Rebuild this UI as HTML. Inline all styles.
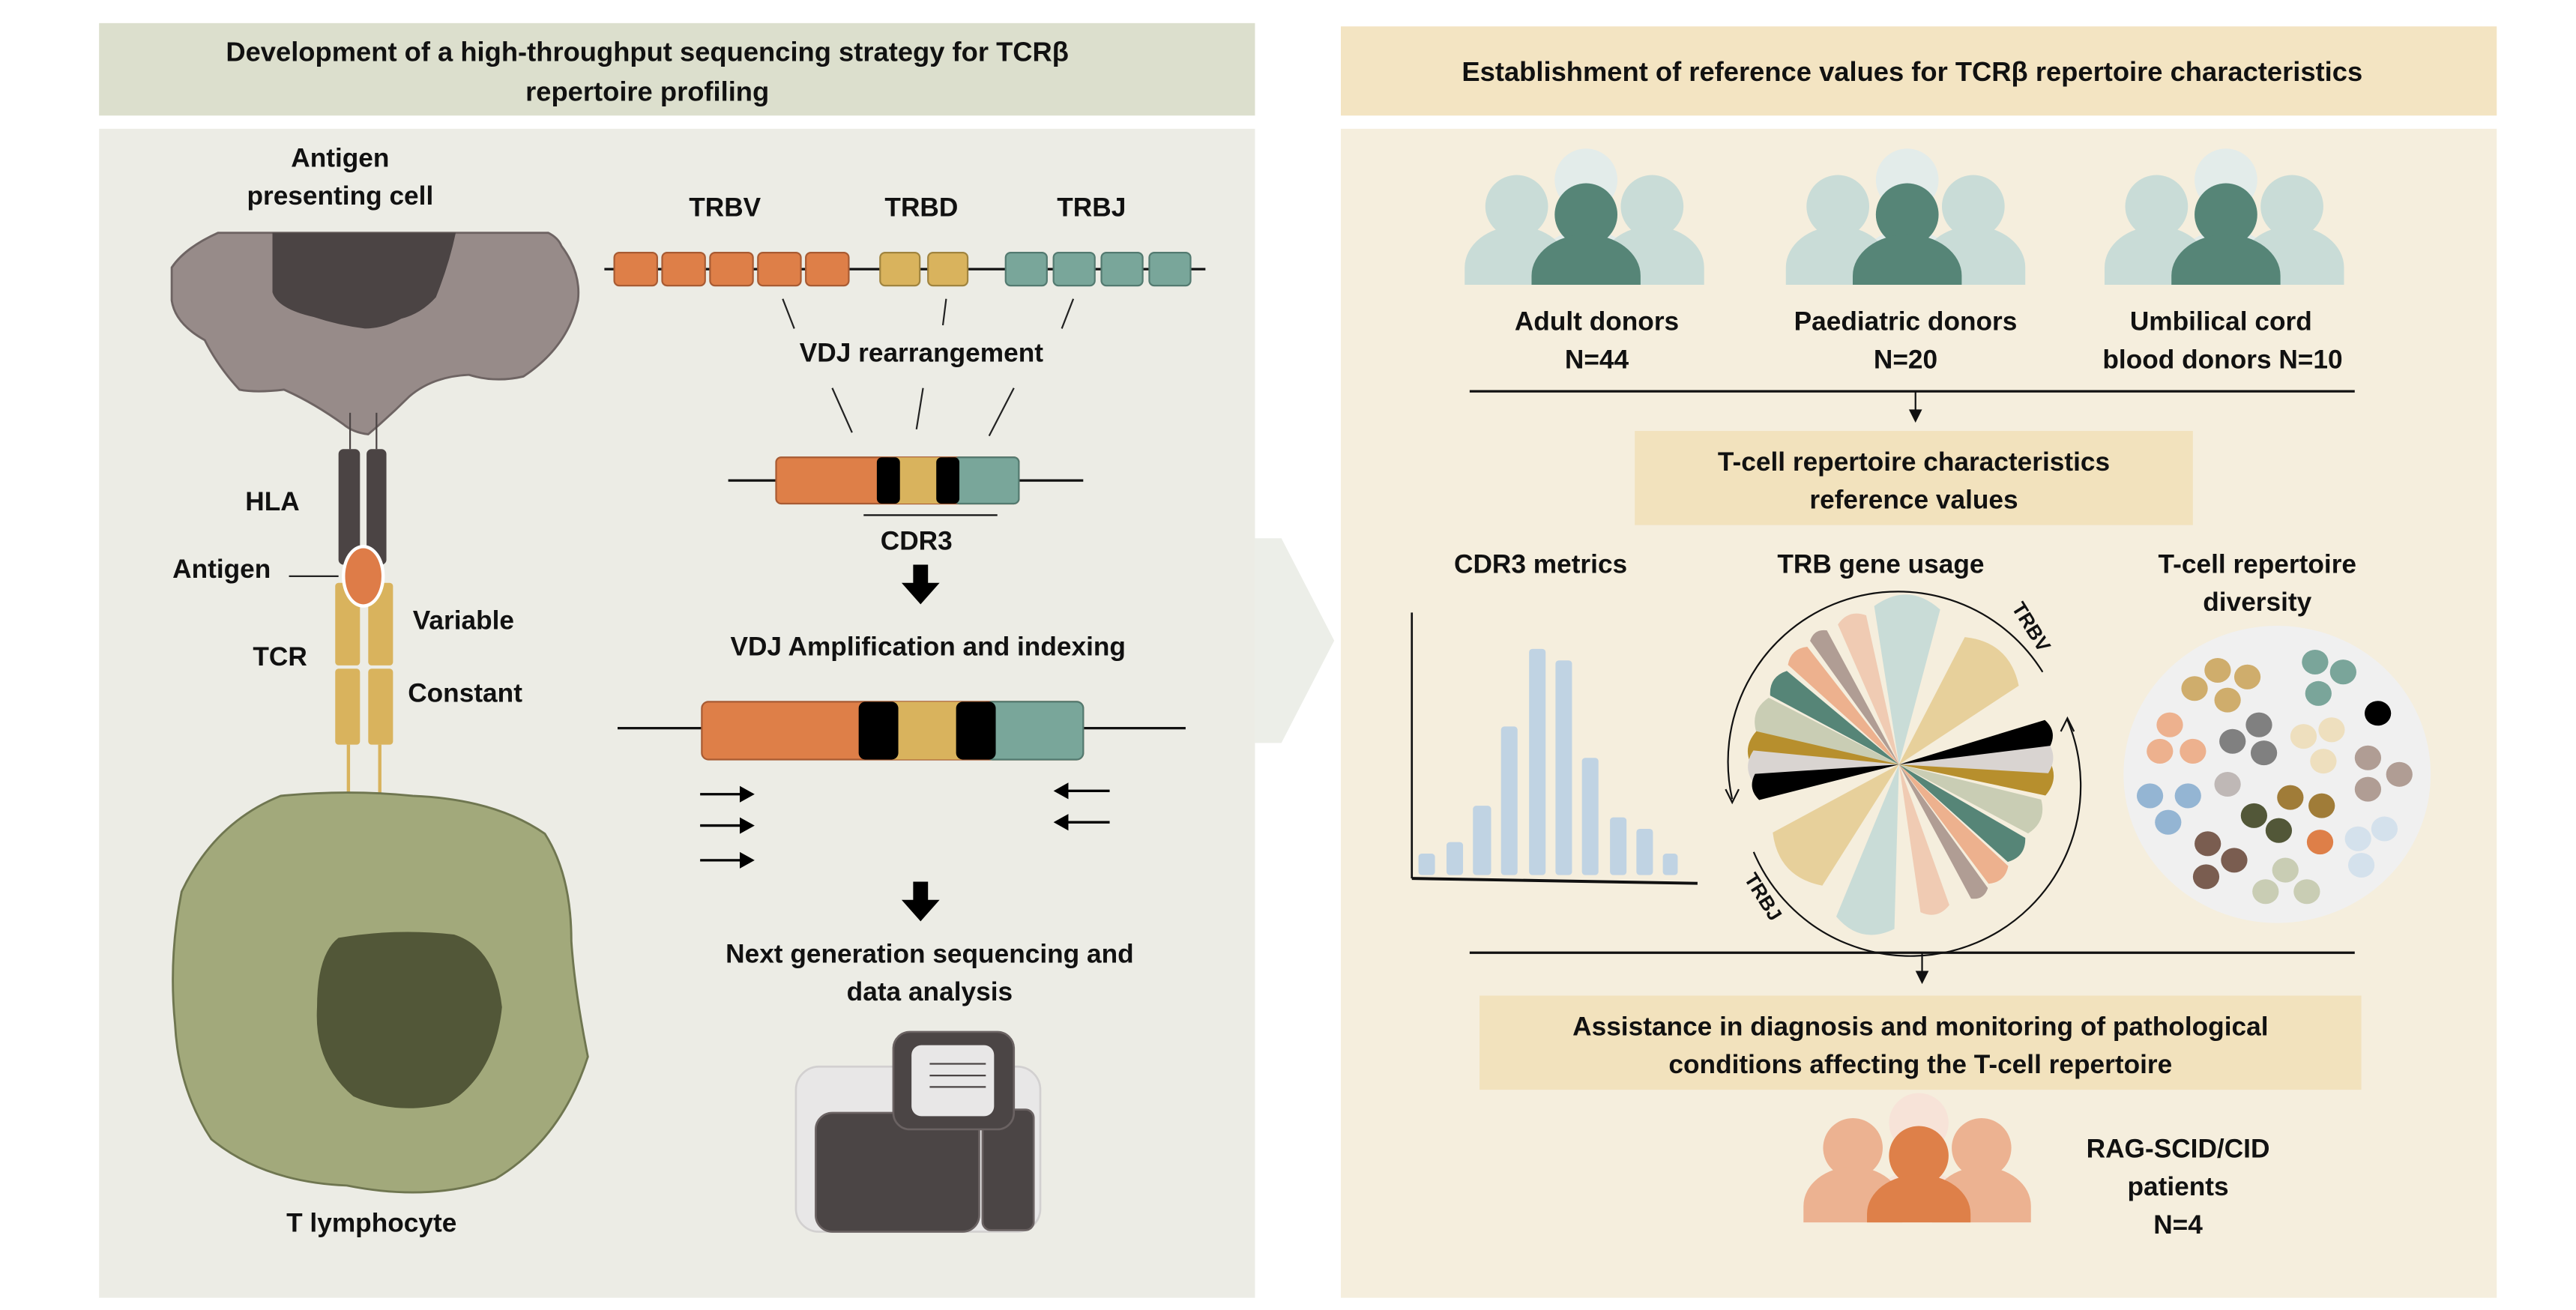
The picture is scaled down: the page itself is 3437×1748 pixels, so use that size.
<!DOCTYPE html>
<html><head><meta charset="utf-8"><style>
html,body{margin:0;padding:0;background:#fff}
svg{display:block}
text{font-family:"Liberation Sans",Arial,sans-serif;font-weight:bold;fill:#111}
</style></head><body>
<svg width="3437" height="1748" viewBox="0 0 1560 793.4" preserveAspectRatio="none" xmlns="http://www.w3.org/2000/svg">
<rect width="1560" height="794" fill="#fff"/>
<!-- Left -->
<rect x="60" y="14" width="700" height="56" fill="#dcdfcd"/>
<text x="392" y="37" font-size="16.5" text-anchor="middle">Development of a high-throughput sequencing strategy for TCRβ</text>
<text x="392" y="61" font-size="16.5" text-anchor="middle">repertoire profiling</text>
<rect x="60" y="78" width="700" height="708" fill="#ecece5"/>
<polygon points="760,326 776,326 808,388 776,450 760,450" fill="#eceee8"/>
<!-- Right -->
<rect x="812" y="16" width="700" height="54" fill="#f3e4c2"/>
<text x="1158" y="49" font-size="16.5" text-anchor="middle">Establishment of reference values for TCRβ repertoire characteristics</text>
<rect x="812" y="78" width="700" height="708" fill="#f5eedd"/>

<!-- APC -->
<text x="206" y="101" font-size="16" text-anchor="middle">Antigen</text>
<text x="206" y="124" font-size="16" text-anchor="middle">presenting cell</text>
<path d="M132,141 L332,141 Q338,144 340,149 Q352,165 350,182 Q344,210 317,228 Q300,232 284,227 Q262,228 248,240 Q236,252 223,263 Q214,262 208,257 Q190,244 172,236 Q155,238 145,236 Q132,222 124,206 Q106,196 104,182 L104,162 Q112,150 132,141Z" fill="#978b89" stroke="#6e6463" stroke-width="1.3"/>
<path d="M165,141 L276,141 Q272,160 264,180 Q255,190 243,193 Q232,199 221,199 Q205,197 190,192 Q168,187 165,177Z" fill="#4b4444"/>
<!-- HLA -->
<line x1="212" y1="250" x2="212" y2="272" stroke="#4b4444" stroke-width="1"/>
<line x1="228" y1="250" x2="228" y2="272" stroke="#4b4444" stroke-width="1"/>
<rect x="205" y="272" width="13" height="70" rx="3" fill="#4b4444"/>
<rect x="222" y="272" width="12" height="70" rx="3" fill="#4b4444"/>
<text x="165" y="309" font-size="16" text-anchor="middle">HLA</text>
<text x="164" y="350" font-size="16" text-anchor="end">Antigen</text>
<line x1="175" y1="349" x2="205" y2="349" stroke="#222" stroke-width="1"/>
<!-- TCR -->
<rect x="203" y="353" width="15" height="50" rx="2" fill="#d9b35d"/>
<rect x="223" y="353" width="15" height="50" rx="2" fill="#d9b35d"/>
<rect x="203" y="405" width="15" height="46" rx="2" fill="#d9b35d"/>
<rect x="223" y="405" width="15" height="46" rx="2" fill="#d9b35d"/>
<line x1="211" y1="451" x2="211" y2="486" stroke="#d9b35d" stroke-width="2"/>
<line x1="230" y1="451" x2="230" y2="486" stroke="#d9b35d" stroke-width="2"/>
<ellipse cx="220" cy="349" rx="13" ry="19" fill="#fff"/>
<ellipse cx="220" cy="349" rx="11" ry="17" fill="#de7c48"/>
<text x="250" y="381" font-size="16">Variable</text>
<text x="247" y="425" font-size="16">Constant</text>
<text x="186" y="403" font-size="16" text-anchor="end">TCR</text>
<text x="223" y="505" font-size="17" text-anchor="middle">α β</text>
<!-- T cell -->
<path d="M170,482 Q210,478 250,482 Q300,484 330,505 Q346,530 346,570 Q348,600 356,640 Q340,690 300,714 Q260,728 210,718 Q160,716 128,690 Q108,660 106,620 Q102,580 110,540 Q130,498 170,482Z" fill="#a2a97b" stroke="#6f7650" stroke-width="1.3"/>
<path d="M205,568 Q240,562 275,566 Q300,574 304,610 Q300,650 272,668 Q240,676 214,664 Q190,644 192,610 Q192,578 205,568Z" fill="#525738"/>
<text x="225" y="746" font-size="16" text-anchor="middle">T lymphocyte</text>

<!-- Genes -->
<text x="439" y="131" font-size="16" text-anchor="middle">TRBV</text>
<text x="558" y="131" font-size="16" text-anchor="middle">TRBD</text>
<text x="661" y="131" font-size="16" text-anchor="middle">TRBJ</text>
<line x1="366" y1="163" x2="730" y2="163" stroke="#111" stroke-width="1.5"/>
<g stroke-width="1">
<rect x="372" y="153" width="26" height="20" rx="3" fill="#de7f48" stroke="#a85b33"/>
<rect x="401" y="153" width="26" height="20" rx="3" fill="#de7f48" stroke="#a85b33"/>
<rect x="430" y="153" width="26" height="20" rx="3" fill="#de7f48" stroke="#a85b33"/>
<rect x="459" y="153" width="26" height="20" rx="3" fill="#de7f48" stroke="#a85b33"/>
<rect x="488" y="153" width="26" height="20" rx="3" fill="#de7f48" stroke="#a85b33"/>
<rect x="533" y="153" width="24" height="20" rx="3" fill="#d9b35d" stroke="#a0843f"/>
<rect x="562" y="153" width="24" height="20" rx="3" fill="#d9b35d" stroke="#a0843f"/>
<rect x="609" y="153" width="25" height="20" rx="3" fill="#79a69a" stroke="#537a70"/>
<rect x="638" y="153" width="25" height="20" rx="3" fill="#79a69a" stroke="#537a70"/>
<rect x="667" y="153" width="25" height="20" rx="3" fill="#79a69a" stroke="#537a70"/>
<rect x="696" y="153" width="25" height="20" rx="3" fill="#79a69a" stroke="#537a70"/>
</g>
<g stroke="#222" stroke-width="1">
<line x1="474" y1="181" x2="481" y2="199"/><line x1="573" y1="181" x2="571" y2="197"/><line x1="650" y1="181" x2="643" y2="199"/>
<line x1="504" y1="235" x2="516" y2="262"/><line x1="559" y1="235" x2="555" y2="260"/><line x1="614" y1="235" x2="599" y2="264"/>
</g>
<text x="558" y="219" font-size="16" text-anchor="middle">VDJ rearrangement</text>
<line x1="441" y1="291" x2="656" y2="291" stroke="#111" stroke-width="1.5"/>
<rect x="470" y="277" width="147" height="28" rx="3" fill="#de7f48" stroke="#a85b33"/>
<rect x="538" y="277" width="36" height="28" fill="#d9b35d"/>
<rect x="578" y="277" width="39" height="28" rx="3" fill="#79a69a" stroke="#537a70"/>
<rect x="531" y="277" width="14" height="28" rx="3" fill="#000"/>
<rect x="567" y="277" width="14" height="28" rx="3" fill="#000"/>
<line x1="523" y1="312" x2="604" y2="312" stroke="#111" stroke-width="1"/>
<text x="555" y="333" font-size="16" text-anchor="middle">CDR3</text>
<rect x="553" y="342" width="9" height="12" fill="#000"/><polygon points="546,353 569,353 557.5,366" fill="#000"/>
<text x="562" y="397" font-size="16" text-anchor="middle">VDJ Amplification and indexing</text>
<line x1="374" y1="441" x2="718" y2="441" stroke="#111" stroke-width="1.5"/>
<rect x="425" y="425" width="231" height="35" rx="4" fill="#de7f48" stroke="#a85b33"/>
<rect x="527" y="425" width="70" height="35" fill="#d9b35d"/>
<rect x="597" y="425" width="59" height="35" rx="4" fill="#79a69a" stroke="#537a70"/>
<rect x="520" y="425" width="24" height="35" rx="4" fill="#000"/>
<rect x="579" y="425" width="24" height="35" rx="4" fill="#000"/>
<g stroke="#000" stroke-width="1.5">
<line x1="424" y1="481" x2="450" y2="481"/><line x1="424" y1="500" x2="450" y2="500"/><line x1="424" y1="521" x2="450" y2="521"/>
<line x1="646" y1="479" x2="672" y2="479"/><line x1="646" y1="498" x2="672" y2="498"/>
</g>
<g fill="#000">
<polygon points="457,481 448,476 448,486"/><polygon points="457,500 448,495 448,505"/><polygon points="457,521 448,516 448,526"/>
<polygon points="638,479 647,474 647,484"/><polygon points="638,498 647,493 647,503"/>
</g>
<rect x="553" y="534" width="9" height="12" fill="#000"/><polygon points="546,545 569,545 557.5,558" fill="#000"/>
<text x="563" y="583" font-size="16" text-anchor="middle">Next generation sequencing and</text>
<text x="563" y="606" font-size="16" text-anchor="middle">data analysis</text>
<!-- computer -->
<rect x="482" y="646" width="148" height="100" rx="14" fill="#e8e7e7" stroke="#d2d0d0" stroke-width="1.2"/>
<rect x="494" y="674" width="99" height="72" rx="10" fill="#4b4545" stroke="#6a6262" stroke-width="1.2"/>
<rect x="595" y="672" width="31" height="73" rx="5" fill="#4b4545" stroke="#6a6262" stroke-width="1.2"/>
<rect x="541" y="625" width="73" height="59" rx="10" fill="#4b4545" stroke="#6a6262" stroke-width="1.2"/>
<rect x="552" y="633" width="50" height="43" rx="6" fill="#e8e7e7"/>
<g stroke="#4b4545" stroke-width="1"><line x1="563" y1="644.3" x2="597" y2="644.3"/><line x1="563" y1="651.4" x2="597" y2="651.4"/><line x1="563" y1="658.3" x2="597" y2="658.3"/></g>

<!-- Right: donors -->
<defs>
<g id="pp">
<circle cx="0" cy="-21" r="19" fill="#e3ecea"/>
<path d="M-30,42.5 L-30,33 A30,24 0 0 1 30,33 L30,42.5Z" fill="#e3ecea"/>
<circle cx="-42" cy="-5" r="19" fill="#c9dcd7"/>
<path d="M-73.5,42.5 L-73.5,32 A31.5,25 0 0 1 -10.5,32 L-10.5,42.5Z" fill="#c9dcd7"/>
<circle cx="40" cy="-5" r="19" fill="#c9dcd7"/>
<path d="M8.5,42.5 L8.5,32 A31.5,25 0 0 1 71.5,32 L71.5,42.5Z" fill="#c9dcd7"/>
<circle cx="0" cy="0" r="19" fill="#568577"/>
<path d="M-33,42.5 L-33,37 A33,25 0 0 1 33,37 L33,42.5Z" fill="#568577"/>
</g>
<g id="pq">
<circle cx="0" cy="-21" r="19" fill="#f7e3d8"/>
<path d="M-30,42.5 L-30,33 A30,24 0 0 1 30,33 L30,42.5Z" fill="#f7e3d8"/>
<circle cx="-42" cy="-5" r="19" fill="#ecb291"/>
<path d="M-73.5,42.5 L-73.5,32 A31.5,25 0 0 1 -10.5,32 L-10.5,42.5Z" fill="#ecb291"/>
<circle cx="40" cy="-5" r="19" fill="#ecb291"/>
<path d="M8.5,42.5 L8.5,32 A31.5,25 0 0 1 71.5,32 L71.5,42.5Z" fill="#ecb291"/>
<circle cx="0" cy="0" r="19" fill="#de8049"/>
<path d="M-33,42.5 L-33,37 A33,25 0 0 1 33,37 L33,42.5Z" fill="#de8049"/>
</g>
</defs>
<use href="#pp" transform="translate(960.5,130)"/>
<use href="#pp" transform="translate(1155,130)"/>
<use href="#pp" transform="translate(1348,130)"/>
<text x="967" y="200" font-size="16" text-anchor="middle">Adult donors</text>
<text x="967" y="223" font-size="16" text-anchor="middle">N=44</text>
<text x="1154" y="200" font-size="16" text-anchor="middle">Paediatric donors</text>
<text x="1154" y="223" font-size="16" text-anchor="middle">N=20</text>
<text x="1345" y="200" font-size="16" text-anchor="middle">Umbilical cord</text>
<text x="1346" y="223" font-size="16" text-anchor="middle">blood donors N=10</text>
<line x1="890" y1="237" x2="1426" y2="237" stroke="#111" stroke-width="1.5"/>
<line x1="1160" y1="237" x2="1160" y2="249" stroke="#111"/><polygon points="1156,248 1164,248 1160,256" fill="#111"/>
<rect x="990" y="261" width="338" height="57" fill="#f2e2bd"/>
<text x="1159" y="285" font-size="16" text-anchor="middle">T-cell repertoire characteristics</text>
<text x="1159" y="308" font-size="16" text-anchor="middle">reference values</text>
<text x="933" y="347" font-size="16" text-anchor="middle">CDR3 metrics</text>
<text x="1139" y="347" font-size="16" text-anchor="middle">TRB gene usage</text>
<text x="1367" y="347" font-size="16" text-anchor="middle">T-cell repertoire</text>
<text x="1367" y="370" font-size="16" text-anchor="middle">diversity</text>
<!-- histogram -->
<line x1="855" y1="371" x2="855" y2="532" stroke="#111" stroke-width="1.2"/>
<line x1="855" y1="532" x2="1028" y2="535" stroke="#111" stroke-width="1.8"/>
<g fill="#c0d3e3">
<rect x="859" y="517" width="10" height="13" rx="2"/><rect x="876" y="510" width="10" height="20" rx="2"/><rect x="892" y="488" width="11" height="42" rx="2"/>
<rect x="909" y="440" width="10" height="90" rx="2"/><rect x="926" y="393" width="10" height="137" rx="2"/><rect x="942" y="400" width="10" height="130" rx="2"/>
<rect x="958" y="459" width="10" height="71" rx="2"/><rect x="975" y="495" width="10" height="35" rx="2"/><rect x="991" y="502" width="10" height="28" rx="2"/><rect x="1007" y="517" width="9" height="13" rx="2"/>
</g>
<!-- fan -->
<g transform="translate(1150,463)">
<path d="M0,0 L-20,-95 Q0,-111 20,-95Z" fill="#c9dcd7" transform="rotate(3)"/>
<path d="M0,0 L-18,-98 Q0,-112 18,-98Z" fill="#c9dcd7" transform="rotate(192)"/>
<path d="M0,0 L-22,-84 Q0,-100 22,-84Z" fill="#e7d09b" transform="rotate(42)"/>
<path d="M0,0 L-22,-84 Q0,-100 22,-84Z" fill="#e7d09b" transform="rotate(227)"/>
<path d="M0,0 L-9,-92 Q0,-99 9,-92Z" fill="#f0cbb3" transform="rotate(-18)"/>
<path d="M0,0 L-9,-90 Q0,-97 9,-90Z" fill="#f0cbb3" transform="rotate(166)"/>
<path d="M0,0 L-6,-92 Q0,-97 6,-92Z" fill="#b09d94" transform="rotate(-32)"/>
<path d="M0,0 L-6,-92 Q0,-97 6,-92Z" fill="#b09d94" transform="rotate(148)"/>
<path d="M0,0 L-8,-90 Q0,-96 8,-90Z" fill="#edb18e" transform="rotate(-43)"/>
<path d="M0,0 L-8,-90 Q0,-96 8,-90Z" fill="#edb18e" transform="rotate(138)"/>
<path d="M0,0 L-9,-88 Q0,-95 9,-88Z" fill="#568577" transform="rotate(-56)"/>
<path d="M0,0 L-9,-88 Q0,-95 9,-88Z" fill="#568577" transform="rotate(126)"/>
<path d="M0,0 L-11,-88 Q0,-96 11,-88Z" fill="#c9cdb4" transform="rotate(-70)"/>
<path d="M0,0 L-11,-88 Q0,-96 11,-88Z" fill="#c9cdb4" transform="rotate(111)"/>
<path d="M0,0 L-11,-88 Q0,-96 11,-88Z" fill="#b78f2d" transform="rotate(-84)"/>
<path d="M0,0 L-11,-90 Q0,-98 11,-90Z" fill="#b78f2d" transform="rotate(95)"/>
<path d="M0,0 L-10,-88 Q0,-95 10,-88Z" fill="#d9d4d1" transform="rotate(-91)"/>
<path d="M0,0 L-10,-90 Q0,-97 10,-90Z" fill="#d9d4d1" transform="rotate(87)"/>
<path d="M0,0 L-8,-87 Q0,-93 8,-87Z" fill="#000" transform="rotate(-99)"/>
<path d="M0,0 L-8,-92 Q0,-98 8,-92Z" fill="#000" transform="rotate(78)"/>
</g>
<path d="M1049,484 A103,103 0 0 1 1237,407" fill="none" stroke="#111" stroke-width="1"/>
<path d="M1252,436 A103,103 0 0 1 1062,516" fill="none" stroke="#111" stroke-width="1"/>
<polyline points="1045,478 1049,486 1053,478" fill="none" stroke="#111"/>
<polyline points="1248,443 1252,435 1256,443" fill="none" stroke="#111"/>
<text x="0" y="0" font-size="12" font-weight="normal" transform="translate(1218,368) rotate(58)">TRBV</text>
<text x="0" y="0" font-size="12" font-weight="normal" transform="translate(1056,532) rotate(58)">TRBJ</text>
<!-- diversity -->
<ellipse cx="1379" cy="469" rx="93" ry="90" fill="#f0f0f0"/>
<g>
<g fill="#cfad6c"><ellipse cx="1343" cy="406" rx="8" ry="7.5"/><ellipse cx="1361" cy="410" rx="8" ry="7.5"/><ellipse cx="1329" cy="417" rx="8" ry="7.5"/><ellipse cx="1349" cy="424" rx="8" ry="7.5"/></g>
<g fill="#7aa59a"><ellipse cx="1402" cy="401" rx="8" ry="7.5"/><ellipse cx="1419" cy="407" rx="8" ry="7.5"/><ellipse cx="1404" cy="420" rx="8" ry="7.5"/></g>
<ellipse cx="1440" cy="432" rx="8" ry="7.5" fill="#000"/>
<g fill="#edb18e"><ellipse cx="1314" cy="439" rx="8" ry="7.5"/><ellipse cx="1308" cy="455" rx="8" ry="7.5"/><ellipse cx="1328" cy="455" rx="8" ry="7.5"/></g>
<g fill="#808080"><ellipse cx="1368" cy="439" rx="8" ry="7.5"/><ellipse cx="1352" cy="449" rx="8" ry="7.5"/><ellipse cx="1371" cy="456" rx="8" ry="7.5"/></g>
<g fill="#eedfbe"><ellipse cx="1412" cy="442" rx="8" ry="7.5"/><ellipse cx="1395" cy="446" rx="8" ry="7.5"/><ellipse cx="1407" cy="461" rx="8" ry="7.5"/></g>
<g fill="#b09d94"><ellipse cx="1434" cy="459" rx="8" ry="7.5"/><ellipse cx="1453" cy="469" rx="8" ry="7.5"/><ellipse cx="1434" cy="478" rx="8" ry="7.5"/></g>
<ellipse cx="1349" cy="475" rx="8" ry="7.5" fill="#bfb8b6"/>
<g fill="#94b5d3"><ellipse cx="1302" cy="482" rx="8" ry="7.5"/><ellipse cx="1325" cy="482" rx="8" ry="7.5"/><ellipse cx="1313" cy="498" rx="8" ry="7.5"/></g>
<g fill="#a07c38"><ellipse cx="1387" cy="483" rx="8" ry="7.5"/><ellipse cx="1406" cy="488" rx="8" ry="7.5"/></g>
<g fill="#525738"><ellipse cx="1365" cy="494" rx="8" ry="7.5"/><ellipse cx="1380" cy="503" rx="8" ry="7.5"/></g>
<ellipse cx="1405" cy="510" rx="8" ry="7.5" fill="#de7f48"/>
<g fill="#d4e1ec"><ellipse cx="1444" cy="502" rx="8" ry="7.5"/><ellipse cx="1428" cy="508" rx="8" ry="7.5"/><ellipse cx="1430" cy="524" rx="8" ry="7.5"/></g>
<g fill="#7a5d50"><ellipse cx="1337" cy="511" rx="8" ry="7.5"/><ellipse cx="1353" cy="521" rx="8" ry="7.5"/><ellipse cx="1336" cy="531" rx="8" ry="7.5"/></g>
<g fill="#c9cdb4"><ellipse cx="1384" cy="527" rx="8" ry="7.5"/><ellipse cx="1372" cy="540" rx="8" ry="7.5"/><ellipse cx="1397" cy="540" rx="8" ry="7.5"/></g>
</g>
<line x1="890" y1="577" x2="1426" y2="577" stroke="#111" stroke-width="1.5"/>
<line x1="1164" y1="577" x2="1164" y2="589" stroke="#111"/><polygon points="1160,588 1168,588 1164,596" fill="#111"/>
<rect x="896" y="603" width="534" height="57" fill="#f2e2bd"/>
<text x="1163" y="627" font-size="16" text-anchor="middle">Assistance in diagnosis and monitoring of pathological</text>
<text x="1163" y="650" font-size="16" text-anchor="middle">conditions affecting the T-cell repertoire</text>
<use href="#pq" transform="translate(1162,700) scale(0.95)"/>
<text x="1319" y="701" font-size="16" text-anchor="middle">RAG-SCID/CID</text>
<text x="1319" y="724" font-size="16" text-anchor="middle">patients</text>
<text x="1319" y="747" font-size="16" text-anchor="middle">N=4</text>
</svg>
</body></html>
